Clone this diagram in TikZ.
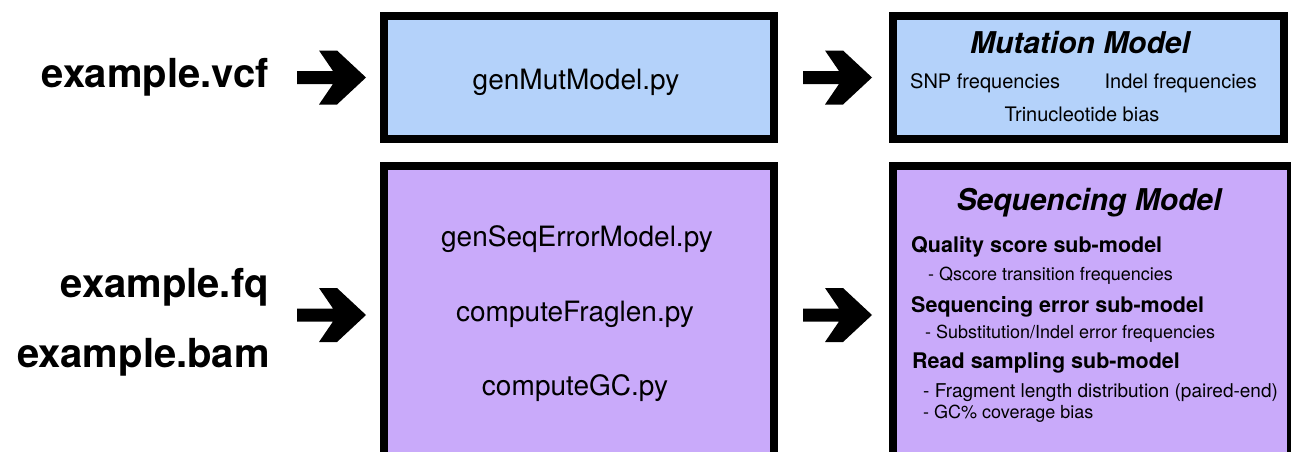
\documentclass[tikz,border=0pt]{standalone}
\usepackage{fontspec}
\setmainfont{TeX Gyre Heros}
\usetikzlibrary{calc}
\definecolor{mutblue}{RGB}{180,210,250}
\definecolor{seqpurple}{RGB}{201,170,250}
\newcommand{\blockarrow}[2]{%
  \fill[black] ($(#1.west)+(-#2-69,-6.5)$) -- ($(#1.west)+(-#2-33,-6.5)$)
    -- ($(#1.west)+(-#2-47,-27)$) -- ($(#1.west)+(-#2-29,-27)$)
    -- ($(#1.west)+(-#2,0)$)
    -- ($(#1.west)+(-#2-29,27)$) -- ($(#1.west)+(-#2-47,27)$)
    -- ($(#1.west)+(-#2-33,6.5)$) -- ($(#1.west)+(-#2-69,6.5)$) -- cycle;}
\tikzset{
  modelbox/.style={draw=black, line width=8pt, outer sep=0pt, inner sep=0pt, rectangle},
  infile/.style={inner sep=0pt, font=\fontsize{40}{48}\selectfont\bfseries, anchor=base east},
  script/.style={inner sep=0pt, font=\fontsize{28}{34}\selectfont, anchor=base},
  mtitle/.style={inner sep=0pt, font=\fontsize{30}{36}\selectfont\bfseries\itshape, anchor=base},
  mtext/.style={inner sep=0pt, font=\fontsize{20}{24}\selectfont},
  subhead/.style={inner sep=0pt, font=\fontsize{21.5}{26}\selectfont\bfseries, anchor=base west},
  subitem/.style={inner sep=0pt, font=\fontsize{18}{22}\selectfont, anchor=base west}
}
\begin{document}
\begin{tikzpicture}[x=1pt,y=-1pt]
\useasboundingbox (0,0) rectangle (1291,451);
\clip (0,0) rectangle (1291,451);
\fill[white] (0,0) rectangle (1291,451);
% boxes
\node[modelbox, fill=mutblue, minimum width=390pt, minimum height=123pt] (mutscript) at (579,77.5) {};
\node[modelbox, fill=mutblue, minimum width=391pt, minimum height=123pt] (mutmodel) at (1088.5,77.5) {};
\node[modelbox, fill=seqpurple, minimum width=390pt, minimum height=298pt] (seqscript) at (579,315) {};
\node[modelbox, fill=seqpurple, minimum width=398pt, minimum height=298pt] (seqmodel) at (1092,315) {};
% input files
\node[infile] (vcf) at (269,87) {example.vcf};
\node[infile] (fq) at (269,297) {example.fq};
\node[infile] (bam) at (270,367) {example.bam};
% scripts
\node[script] (genmut) at (576,89) {genMutModel.py};
\node[script] (genseq) at (577,246) {genSeqErrorModel.py};
\node[script] (fraglen) at (575,321) {computeFraglen.py};
\node[script] (gc) at (575,395) {computeGC.py};
% mutation model
\node[mtitle] (mtitle) at (1080,53) {Mutation Model};
\node[mtext, anchor=base west] (snp) at (910,88) {SNP frequencies};
\node[mtext, anchor=base east] (indel) at (1257,88) {Indel frequencies};
\node[mtext, anchor=base] (trinuc) at (1082,121) {Trinucleotide bias};
% sequencing model
\node[mtitle] (stitle) at (1089,210) {Sequencing Model};
\node[subhead] (qual) at (911,252) {Quality score sub-model};
\node[subitem] (qscore) at (928,280) {- Qscore transition frequencies};
\node[subhead] (seqerr) at (911,312) {Sequencing error sub-model};
\node[subitem] (subst) at (925,338) {- Substitution/Indel error frequencies};
\node[subhead] (readsamp) at (912,368) {Read sampling sub-model};
\node[subitem, font=\fontsize{19}{22}\selectfont] (frag) at (923,397) {- Fragment length distribution (paired-end)};
\node[subitem] (gcbias) at (923,418) {- GC\% coverage bias};
% arrows
\blockarrow{mutscript}{18}
\blockarrow{seqscript}{18}
\blockarrow{mutmodel}{21}
\blockarrow{seqmodel}{21}
\end{tikzpicture}
\end{document}
